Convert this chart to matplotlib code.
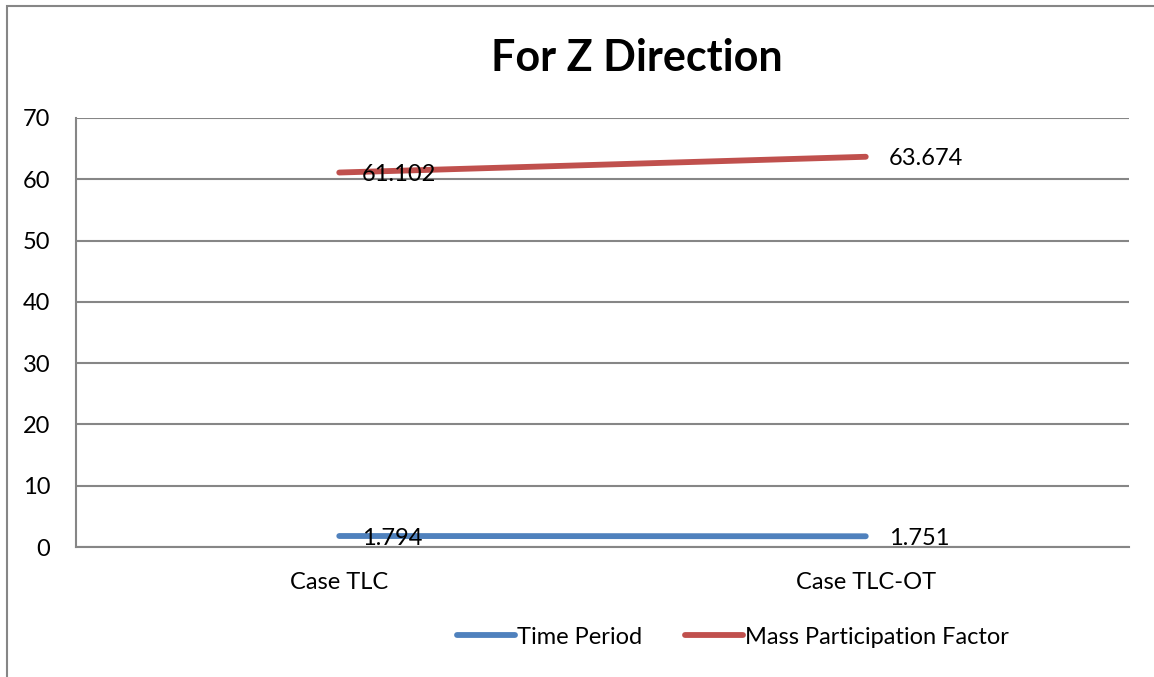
import matplotlib
matplotlib.use("Agg")
import matplotlib.pyplot as plt
from matplotlib.patches import Rectangle
from matplotlib.lines import Line2D

categories = ["Case TLC", "Case TLC-OT"]
time_period = [1.794, 1.751]
mass_participation = [61.102, 63.674]
series_names = ["Time Period", "Mass Participation Factor"]
yticks = [0, 10, 20, 30, 40, 50, 60, 70]
title = "For Z Direction"

blue = "#4F81BD"
red = "#C0504D"
grid = "#868686"

plt.rcParams['font.family'] = ['Lato', 'DejaVu Sans']

W, H = 1154, 677
fig = plt.figure(figsize=(W / 100, H / 100), dpi=100)
ax = fig.add_axes([76 / W, 1 - 547 / H, (1129 - 76) / W, (547 - 118) / H])

x = list(range(len(categories)))
ax.plot(x, time_period, color=blue, lw=4.2, solid_capstyle='round', label=series_names[0], zorder=3)
ax.plot(x, mass_participation, color=red, lw=4.2, solid_capstyle='round', label=series_names[1], zorder=3)

for xi, v in zip(x, time_period):
    ax.annotate(f"{v:.3f}", (xi, v), xytext=(16.5, -1.5), textcoords='offset points',
                ha='left', va='center', fontsize=17, color='black', zorder=4)
for xi, v in zip(x, mass_participation):
    ax.annotate(f"{v:.3f}", (xi, v), xytext=(16.5, -1.5), textcoords='offset points',
                ha='left', va='center', fontsize=17, color='black', zorder=4)

ax.set_xlim(-0.5, 1.5)
ax.set_ylim(0, 70)
ax.set_yticks(yticks)
ax.set_xticks(x)
ax.set_xticklabels(categories)
ax.yaxis.grid(True, color=grid, lw=1.5)
ax.set_axisbelow(True)
for s in ['top', 'right']:
    ax.spines[s].set_visible(False)
for s in ['left', 'bottom']:
    ax.spines[s].set_color(grid)
    ax.spines[s].set_linewidth(1.5)
ax.tick_params(axis='both', length=0, labelsize=17)
ax.tick_params(axis='y', pad=18.5)
ax.tick_params(axis='x', pad=18)

fig.text(637 / W, 1 - 58 / H, title, ha='center', va='center', fontsize=31, fontweight='bold')

handles = [Line2D([], [], color=blue, lw=4.2, solid_capstyle='round'),
           Line2D([], [], color=red, lw=4.2, solid_capstyle='round')]
fig.legend(handles, series_names, loc='center', bbox_to_anchor=(733 / W, 1 - 637 / H),
           ncol=2, frameon=False, fontsize=17, handlelength=2.45, handletextpad=0.1,
           columnspacing=1.8)

border = Rectangle((7 / W, -0.5), 2, 1.5 - 6 / H, transform=fig.transFigure,
                   fill=False, edgecolor=grid, lw=1.5)
fig.patches.append(border)

fig.savefig("out.png", dpi=100)
